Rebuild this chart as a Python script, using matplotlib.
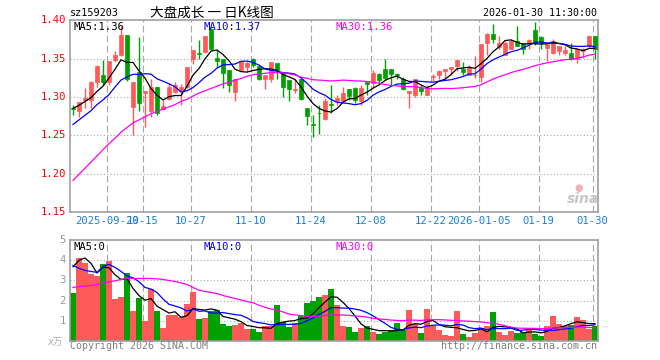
import numpy as np
import pandas as pd
import matplotlib
matplotlib.use("Agg")
import matplotlib.pyplot as plt
from matplotlib.patches import Rectangle

plt.rcParams['font.family'] = ['DejaVu Sans Mono', 'Noto Sans CJK SC']

# ---------------- data ----------------
open_ = [1.2855, 1.282, 1.296, 1.296, 1.319, 1.328, 1.320, 1.348, 1.355, 1.381,
         1.287, 1.332, 1.305, 1.281, 1.313, 1.284, 1.297, 1.307, 1.308, 1.313,
         1.350, 1.357, 1.359, 1.388, 1.351, 1.349, 1.335, 1.306, 1.335, 1.339,
         1.349, 1.340, 1.323, 1.323, 1.344, 1.331, 1.322, 1.3095, 1.323, 1.286,
         1.2647, 1.2795, 1.271, 1.2905, 1.294, 1.295, 1.310, 1.312, 1.294, 1.319,
         1.318, 1.330, 1.336, 1.336, 1.330, 1.324, 1.305, 1.302, 1.311, 1.303,
         1.326, 1.328, 1.334, 1.336, 1.340, 1.336, 1.329, 1.328, 1.326, 1.370,
         1.382, 1.365, 1.355, 1.363, 1.373, 1.370, 1.369, 1.387, 1.378, 1.364,
         1.357, 1.360, 1.357, 1.357, 1.350, 1.360, 1.366, 1.380]
high = [1.290, 1.293, 1.311, 1.321, 1.341, 1.348, 1.347, 1.360, 1.392, 1.381,
        1.319, 1.378, 1.308, 1.323, 1.313, 1.296, 1.318, 1.319, 1.317, 1.339,
        1.361, 1.374, 1.379, 1.390, 1.361, 1.349, 1.335, 1.324, 1.348, 1.347,
        1.351, 1.340, 1.328, 1.346, 1.344, 1.331, 1.322, 1.324, 1.323, 1.286,
        1.276, 1.289, 1.299, 1.316, 1.303, 1.313, 1.310, 1.313, 1.316, 1.320,
        1.335, 1.331, 1.349, 1.337, 1.331, 1.326, 1.308, 1.324, 1.316, 1.316,
        1.330, 1.335, 1.336, 1.339, 1.348, 1.345, 1.342, 1.354, 1.369, 1.383,
        1.395, 1.379, 1.373, 1.376, 1.392, 1.371, 1.376, 1.398, 1.379, 1.370,
        1.376, 1.367, 1.366, 1.370, 1.364, 1.364, 1.381, 1.380]
low = [1.276, 1.274, 1.285, 1.285, 1.313, 1.316, 1.316, 1.345, 1.353, 1.321,
       1.250, 1.281, 1.261, 1.274, 1.276, 1.283, 1.296, 1.305, 1.290, 1.311,
       1.343, 1.350, 1.357, 1.361, 1.339, 1.311, 1.306, 1.295, 1.334, 1.333,
       1.339, 1.322, 1.310, 1.320, 1.324, 1.300, 1.294, 1.305, 1.296, 1.263,
       1.247, 1.252, 1.270, 1.279, 1.290, 1.294, 1.296, 1.292, 1.290, 1.303,
       1.311, 1.318, 1.322, 1.316, 1.323, 1.309, 1.286, 1.300, 1.303, 1.302,
       1.321, 1.323, 1.325, 1.328, 1.334, 1.329, 1.328, 1.325, 1.320, 1.355,
       1.370, 1.363, 1.355, 1.362, 1.366, 1.356, 1.363, 1.368, 1.363, 1.347,
       1.356, 1.355, 1.355, 1.348, 1.344, 1.351, 1.364, 1.350]
close = [1.2845, 1.293, 1.299, 1.319, 1.340, 1.319, 1.347, 1.355, 1.381, 1.323,
         1.319, 1.292, 1.308, 1.313, 1.279, 1.288, 1.313, 1.316, 1.313, 1.339,
         1.361, 1.3565, 1.379, 1.363, 1.347, 1.331, 1.316, 1.324, 1.347, 1.344,
         1.341, 1.324, 1.328, 1.345, 1.335, 1.313, 1.310, 1.3105, 1.297, 1.275,
         1.2638, 1.2785, 1.294, 1.2895, 1.298, 1.305, 1.301, 1.296, 1.312, 1.317,
         1.331, 1.322, 1.325, 1.330, 1.328, 1.310, 1.308, 1.324, 1.308, 1.310,
         1.327, 1.334, 1.336, 1.339, 1.348, 1.332, 1.339, 1.329, 1.369, 1.382,
         1.376, 1.370, 1.371, 1.373, 1.367, 1.363, 1.374, 1.370, 1.371, 1.369,
         1.373, 1.366, 1.361, 1.350, 1.363, 1.362, 1.380, 1.363]
volume = [2.37, 4.1, 3.85, 3.33, 3.2, 3.83, 3.96, 2.1, 2.16, 3.36,
          1.46, 2.15, 0.96, 2.56, 1.46, 0.62, 1.28, 1.28, 1.2, 1.82,
          2.42, 1.07, 1.12, 1.48, 1.52, 0.85, 0.72, 0.78, 0.87, 0.57,
          0.6, 0.42, 0.75, 0.75, 1.77, 0.93, 0.67, 0.9, 1.25, 1.87,
          2.0, 2.2, 2.3, 2.56, 1.77, 0.72, 0.67, 0.42, 0.62, 0.72,
          0.42, 0.32, 0.42, 0.52, 0.87, 0.52, 1.52, 0.82, 0.37, 1.57,
          0.75, 0.52, 0.27, 0.22, 1.47, 0.32, 0.17, 0.37, 0.62, 0.72,
          1.42, 0.42, 0.27, 0.47, 0.37, 0.42, 0.62, 0.32, 0.22, 0.72,
          1.22, 0.82, 0.72, 0.77, 1.17, 1.02, 0.57, 0.72]

# moving-average values at the start of the window (read from the picture,
# they depend on days before the first candle)
ma5_head = [1.285, 1.289, 1.294, 1.299]
ma10_head = [1.264, 1.270, 1.276, 1.282, 1.290, 1.296, 1.303, 1.313, 1.322]
ma30_head = [1.191, 1.199, 1.207, 1.215, 1.223, 1.231, 1.239, 1.246, 1.254, 1.260,
             1.266, 1.270, 1.274, 1.278, 1.281, 1.284, 1.287, 1.290, 1.294, 1.297,
             1.301, 1.305, 1.308, 1.311, 1.314, 1.317, 1.319, 1.322, 1.324]
vma5_head = [3.68, 4.0, 4.12, 3.85]
vma10_head = [3.75, 3.6, 3.5, 3.45, 3.4, 3.7, 3.8, 3.65, 3.45]
vma30_head = [2.65, 2.7, 2.72, 2.75, 2.8, 2.87, 2.93, 2.98, 3.05, 3.1,
              3.1, 3.1, 3.1, 3.1, 3.08, 3.05, 3.0, 2.95, 2.88, 2.8,
              2.65, 2.52, 2.45, 2.4, 2.35, 2.25, 2.18, 2.1, 2.03]

tick_index = [6, 12, 20, 30, 40, 50, 60, 68, 78, 87]
tick_labels = ['2025-09-29', '10-15', '10-27', '11-10', '11-24', '12-08',
               '12-22', '2026-01-05', '01-19', '01-30']
price_ticks = [1.40, 1.35, 1.30, 1.25, 1.20, 1.15]
vol_ticks = [1, 2, 3, 4, 5]

# ---------------- helpers ----------------
def moving(values, n, head):
    m = pd.Series(values).rolling(n).mean().to_numpy()
    m[:len(head)] = head
    return m

ma5 = moving(close, 5, ma5_head)
ma10 = moving(close, 10, ma10_head)
ma30 = moving(close, 30, ma30_head)
vma5 = moving(volume, 5, vma5_head)
vma10 = moving(volume, 10, vma10_head)
vma30 = moving(volume, 30, vma30_head)

RED = '#ff5a5a'
GREEN = '#00a000'
GRID = '#a8a8a8'
FRAME = '#a0a0a0'
TICKBLUE = '#1a7fd4'

W, H = 660, 360
fig = plt.figure(figsize=(6.6, 3.6), dpi=100, facecolor='white')

def ax_rect(left, top, right, bottom):
    return [left / W, 1 - bottom / H, (right - left) / W, (bottom - top) / H]

ax = fig.add_axes(ax_rect(70, 20.3, 598, 211.8))
axv = fig.add_axes(ax_rect(70, 240.3, 598, 340.7))

n = len(close)
x = np.arange(n)
for a in (ax, axv):
    a.set_xlim(-0.5, n - 0.5)
    a.set_xticks([])
    a.set_yticks([])
    for s in a.spines.values():
        s.set_color(FRAME)
        s.set_linewidth(1.2)
    for ti in tick_index:
        a.axvline(ti - 0.37, color=GRID, lw=0.8, dashes=(6, 3), zorder=0)

ax.set_ylim(1.15, 1.40)
axv.set_ylim(0, 5)
for p in price_ticks[1:-1]:
    ax.axhline(p, color=GRID, lw=0.8, dashes=(1, 2), zorder=0)
for v in vol_ticks[:-1]:
    axv.axhline(v, color=GRID, lw=0.8, dashes=(1, 2), zorder=0)

# candles
bw = 0.78
for i in range(n):
    o, h, l, c = open_[i], high[i], low[i], close[i]
    col = RED if c >= o else GREEN
    ax.vlines(x[i], l, h, color=col, lw=1.0, zorder=2)
    bot = min(o, c)
    hgt = max(abs(c - o), 0.0006)
    ax.add_patch(Rectangle((x[i] - bw / 2, bot), bw, hgt, facecolor=col,
                           edgecolor=col, lw=0.5, zorder=3))
    axv.bar(x[i], volume[i], width=0.84, color=col, zorder=2)

ax.plot(x, ma5, color='black', lw=0.9, zorder=4)
ax.plot(x, ma10, color='#0000ff', lw=0.9, zorder=4)
ax.plot(x, ma30, color='#ff00ff', lw=0.9, zorder=4)
axv.plot(x, vma5, color='black', lw=0.9, zorder=4)
axv.plot(x, vma10, color='#0000ff', lw=0.9, zorder=4)
axv.plot(x, vma30, color='#ff00ff', lw=0.9, zorder=4)

mono = 'DejaVu Sans Mono'
# price labels
for p in price_ticks:
    ax.text(-0.5 - 4 / 6, p, f'{p:.2f}', color='#ff0000', fontsize=7.6,
            family=mono, ha='right', va='center', clip_on=False)
for v in vol_ticks:
    axv.text(-0.5 - 4 / 6, v, f'{v}', color='#999999', fontsize=7.6,
             family=mono, ha='right', va='center', clip_on=False)
fig.text(63 / W, 1 - 342 / H, 'x万', color='#b0b0b0', fontsize=7,
         family=['DejaVu Sans', 'Noto Sans CJK SC'], ha='right', va='center',
         style='italic')

# date labels
for ti, lab in zip(tick_index, tick_labels):
    ax.text(ti - 0.37, 1.15 - 0.0125, lab, color=TICKBLUE, fontsize=7.6,
            family=mono, ha='center', va='center', clip_on=False)

# MA captions
fs = 7.6
fig.text(73 / W, 1 - 27 / H, f'MA5:{close[-1]*0 + ma5[-1]:.2f}', color='black',
         fontsize=fs, family=mono, va='center')
fig.text(204 / W, 1 - 27 / H, f'MA10:{ma10[-1]:.2f}', color='#0000ff',
         fontsize=fs, family=mono, va='center')
fig.text(335 / W, 1 - 27 / H, f'MA30:{ma30[-1]:.2f}', color='#ff00ff',
         fontsize=fs, family=mono, va='center')
fig.text(74 / W, 1 - 247 / H, 'MA5:0', color='black', fontsize=fs,
         family=mono, va='center')
fig.text(204 / W, 1 - 247 / H, 'MA10:0', color='#0000ff', fontsize=fs,
         family=mono, va='center')
fig.text(335 / W, 1 - 247 / H, 'MA30:0', color='#ff00ff', fontsize=fs,
         family=mono, va='center')

# header
fig.text(70 / W, 1 - 12.5 / H, 'sz159203', color='black', fontsize=7.3,
         family=mono, va='center')
fig.text(212 / W, 1 - 12.5 / H, '大盘成长 一 日K线图', color='black',
         fontsize=9.8, family=['Noto Sans CJK SC', 'DejaVu Sans'],
         ha='center', va='center')
fig.text(597 / W, 1 - 12.5 / H, '2026-01-30 11:30:00', color='black',
         fontsize=7.2, family=mono, ha='right', va='center')

# footer
fig.text(70 / W, 1 - 346 / H, 'Copyright 2026 SINA.COM', color='#808080',
         fontsize=7.2, family=mono, va='center')
fig.text(597 / W, 1 - 346 / H, 'http://finance.sina.com.cn', color='#808080',
         fontsize=7.2, family=mono, ha='right', va='center')

# sina watermark
fig.text(583 / W, 1 - 199 / H, 'sina', color='#c8c8c8', fontsize=10,
         family='DejaVu Sans', weight='bold', style='italic',
         ha='center', va='center')
fig.text(579 / W, 1 - 188 / H, '●', color='#f2b0b0', fontsize=7,
         family='DejaVu Sans', ha='center', va='center')

fig.savefig('out.png', dpi=100, facecolor='white')
